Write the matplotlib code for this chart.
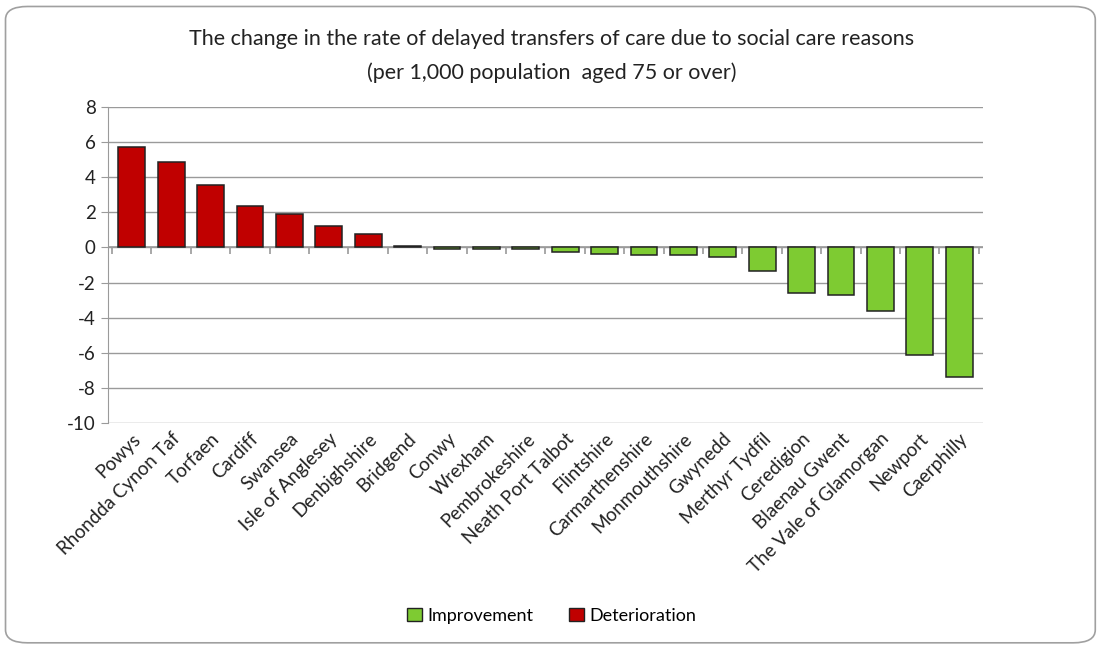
import matplotlib
matplotlib.use("Agg")
import matplotlib.pyplot as plt
from matplotlib.patches import FancyBboxPatch, Patch

plt.rcParams["font.family"] = ["Lato", "DejaVu Sans"]
plt.rcParams["axes.unicode_minus"] = False

areas = ["Powys", "Rhondda Cynon Taf", "Torfaen", "Cardiff", "Swansea",
         "Isle of Anglesey", "Denbighshire", "Bridgend", "Conwy", "Wrexham",
         "Pembrokeshire", "Neath Port Talbot", "Flintshire", "Carmarthenshire",
         "Monmouthshire", "Gwynedd", "Merthyr Tydfil", "Ceredigion",
         "Blaenau Gwent", "The Vale of Glamorgan", "Newport", "Caerphilly"]
change = [5.7, 4.85, 3.55, 2.35, 1.9, 1.2, 0.75, 0.08, -0.1, -0.1,
          -0.1, -0.25, -0.35, -0.45, -0.45, -0.55, -1.35, -2.6,
          -2.7, -3.6, -6.1, -7.4]

green = "#7ECB32"
red = "#C00000"

fig = plt.figure(figsize=(11.03, 6.48), dpi=100)
ax = fig.add_axes([0.098, 0.347, 0.793, 0.488])

x = list(range(len(areas)))
colors = [red if v > 0 else green for v in change]
ax.bar(x, change, width=0.68, color=colors, edgecolor="#222222", linewidth=1.1, zorder=3)

ax.set_ylim(-10, 8)
ax.set_yticks(range(-10, 9, 2))
ax.set_xlim(-0.6, len(areas) - 0.4)
ax.yaxis.grid(True, color="#9a9a9a", linewidth=1.0, zorder=0)
ax.set_axisbelow(True)

for s in ["top", "right", "bottom"]:
    ax.spines[s].set_visible(False)
ax.spines["left"].set_color("#9a9a9a")

# horizontal axis line at zero with category separator ticks
ax.axhline(0, color="#9a9a9a", linewidth=1.2, zorder=2)
ax.vlines([i - 0.5 for i in range(len(areas) + 1)], -0.4, 0, color="#9a9a9a",
          linewidth=1.2, zorder=2)

ax.set_xticks(x)
ax.set_xticklabels(areas, rotation=45, ha="right", rotation_mode="anchor",
                   fontsize=13.5, color="#222222")
ax.tick_params(axis="x", length=0, pad=5)
ax.tick_params(axis="y", length=5, color="#9a9a9a", labelsize=13.5,
               labelcolor="#222222", pad=4)

fig.text(0.5, 0.94, "The change in the rate of delayed transfers of care due to social care reasons",
         ha="center", va="center", fontsize=15.5, color="#222222")
fig.text(0.5, 0.888, "(per 1,000 population  aged 75 or over)",
         ha="center", va="center", fontsize=15.5, color="#222222")

handles = [Patch(facecolor=green, edgecolor="#222222", label="Improvement"),
           Patch(facecolor=red, edgecolor="#222222", label="Deterioration")]
fig.legend(handles=handles, loc="center", bbox_to_anchor=(0.5, 0.05), ncol=2,
           frameon=False, fontsize=13, handlelength=0.8, handleheight=0.8,
           handletextpad=0.3, columnspacing=2.0)

border = FancyBboxPatch((0.005, 0.008), 0.988, 0.982, boxstyle="round,pad=0,rounding_size=0.02",
                        transform=fig.transFigure, facecolor="none",
                        edgecolor="#a0a0a0", linewidth=1.2)
fig.patches.append(border)

fig.savefig("out.png", dpi=100)
